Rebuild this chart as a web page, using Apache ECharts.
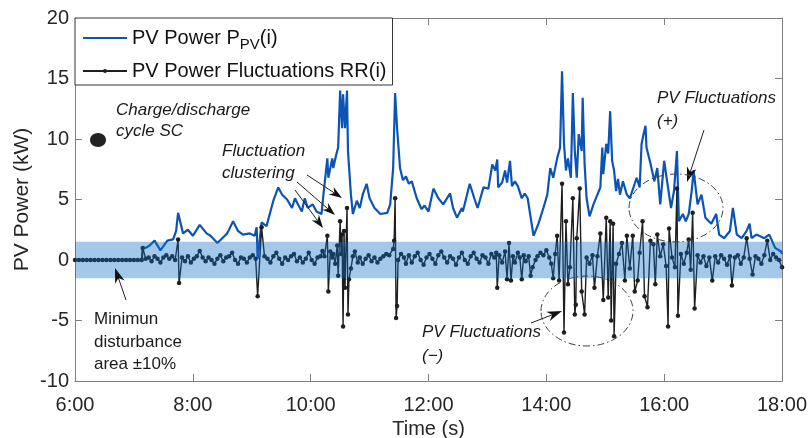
<!DOCTYPE html>
<html>
<head>
<meta charset="utf-8">
<script src="https://cdn.jsdelivr.net/npm/echarts@6/dist/echarts.min.js"></script>
<style>
html,body{margin:0;padding:0;background:#fff;}
#chart{width:808px;height:438px;}
</style>
</head>
<body>
<div id="chart"></div>
<script>
// ---- data (time in minutes after midnight) ----
const xTickLabels = ['6:00','8:00','10:00','12:00','14:00','16:00','18:00'];
const yTicks = [-10, -5, 0, 5, 10, 15, 20];
const bandLimits = [-1.5, 1.5];
const bandSpan = [360, 1080];

const pvTime = [360,380,400,428,429,432,436,441,447,454,
460,463,465,467,470,475,480,487,494,498,
505,510,515,521,526,531,538,543,545,546,
550,555,562,567,571,576,581,584,587,591,
594,597,602,606,611,613,617,618,622,623,
626,628,630,632,633,635,637,638,641,643,
647,650,653,657,660,665,671,678,681,684,
686,688,691,694,697,700,703,708,713,716,
720,725,730,735,742,745,749,754,755,762,
767,770,776,781,785,788,790,791,795,798,
800,803,805,808,811,815,818,821,825,827,
832,837,841,844,847,851,854,856,858,860,
862,865,867,869,871,873,876,877,879,881,
884,888,892,895,897,898,901,903,905,907,
909,911,913,915,918,922,925,930,932,935,
937,939,941,942,946,950,953,956,960,963,
967,970,973,975,979,982,985,988,990,992,
994,998,1002,1008,1013,1016,1021,1027,1030,1034,
1039,1044,1047,1049,1054,1062,1067,1073,1079,1080];

const pvPower = [0,0,0,0,1.0,1.0,1.2,1.6,0.8,1.6,
1.7,2.4,3.9,3.8,2.2,2.5,2.0,2.9,2.2,2.0,
1.4,1.8,2.2,3.2,2.4,2.1,2.2,2.0,2.7,0.1,
3.1,2.8,4.9,6.0,5.4,5.0,4.3,5.1,4.6,4.0,
5.1,4.3,4.6,4.0,3.8,5.4,8.4,6.8,8.4,7.6,
8.7,9.3,14.0,10.9,13.7,10.9,14.0,9.0,5.4,3.8,
4.9,4.3,5.4,6.3,5.1,4.3,3.8,3.9,4.6,7.6,
13.8,10.9,7.6,6.6,6.9,6.3,6.5,5.1,4.2,4.5,
4.0,5.9,5.1,4.6,5.5,4.3,3.5,4.3,4.0,6.3,
5.0,4.3,6.0,5.9,7.9,7.4,8.3,6.0,6.4,7.4,
6.4,8.2,6.1,6.5,6.1,5.1,5.5,5.1,3.0,2.0,
3.0,4.3,5.4,7.6,6.8,8.4,9.3,15.6,9.6,7.4,
8.4,6.8,13.8,9.0,6.8,10.4,9.0,13.4,7.9,5.1,
3.6,4.6,5.4,6.0,9.3,7.1,9.6,8.8,12.3,8.2,
7.4,5.7,6.7,5.4,6.5,5.4,5.1,6.3,6.8,6.0,
9.6,10.4,11.1,9.3,8.0,6.5,7.6,4.6,8.2,6.5,
4.3,5.7,9.0,3.2,3.8,3.2,3.8,5.7,7.4,6.0,
4.6,5.4,3.5,3.0,3.8,2.1,1.8,2.4,4.3,2.1,
1.8,2.4,3.0,1.8,2.1,1.8,2.1,1.0,0.7,0.5];

const rrTime = [360,364,368,372,376,380,384,388,392,396,
400,404,408,412,416,420,424,428,
429,432,435,438,441,444,447,450,453,456,
459,462,465,466,469,472,475,478,481,484,
487,490,493,496,499,502,505,508,511,514,
517,520,523,526,529,532,535,538,541,544,
546,550,553,556,559,562,565,568,571,574,
577,580,583,586,589,592,595,598,601,604,
607,610,612,614,617,618,620,622,623,625,
627,628,630,631,632,633,634,635,637,638,
639,641,643,645,648,650,653,656,659,662,
665,668,671,674,677,680,684,685,686,687,
688,689,692,695,697,700,703,706,709,712,
715,718,721,724,727,730,733,736,739,742,
745,748,751,754,757,760,763,766,769,772,
775,778,781,784,787,789,790,792,795,798,
800,802,804,806,808,811,813,815,817,819,
822,824,826,829,831,834,837,840,843,845,
847,849,851,853,856,858,860,862,864,867,
869,870,871,874,876,879,881,884,887,889,
892,895,898,901,903,905,906,908,909,911,
914,917,920,922,925,928,930,933,935,938,
940,943,946,949,951,953,956,959,962,964,
965,968,971,973,974,977,980,983,985,987,
989,991,994,997,1000,1003,1006,1009,1012,1015,
1018,1021,1024,1027,1029,1032,1035,1038,1041,1044,
1047,1050,1053,1056,1059,1062,1065,1068,1071,1074,
1077,1080];

const rrValue = [0,0,0,0,0,0,0,0,0,0,
0,0,0,0,0,0,0,0,
1.0,0.1,0.2,-0.1,0.3,0.1,-0.2,0.2,0.4,0.1,
0.3,0.0,1.7,-1.9,0.2,-0.1,0.3,-0.2,0.1,0.3,
0.75,0.2,-0.1,0.2,0.0,-0.3,0.1,0.4,-0.1,0.2,
0.3,0.6,0.0,-0.3,0.2,0.1,-0.2,0.2,0.4,0.1,
-3.0,2.7,0.3,0.1,-0.2,0.3,0.6,0.1,-0.3,0.2,
0.0,0.3,0.5,-0.1,0.2,-0.2,0.1,0.6,0.0,-0.3,
0.2,0.3,0.75,0.3,2.0,-2.6,0.7,0.2,0.5,-0.3,
1.2,-1.3,3.2,0.5,2.1,-5.5,2.4,-2.3,4.3,-4.5,
-1.6,-0.7,0.3,0.7,-0.2,0.2,-0.3,0.1,0.4,-0.1,
0.2,-0.2,0.1,0.3,0.5,0.4,0.9,1.6,5.1,-4.8,
-3.8,0.0,0.5,0.2,-0.3,0.4,-0.2,0.3,0.6,0.0,
-0.4,0.2,0.5,0.1,-0.3,0.4,0.7,0.2,-0.2,0.3,
0.1,-0.4,0.2,0.6,0.0,-0.3,0.3,0.6,0.1,-0.2,
0.4,0.2,-0.3,0.5,0.2,0.6,-2.3,0.4,-0.2,0.7,
-1.6,1.4,-1.7,0.3,-0.2,0.6,0.2,-1.6,0.4,-0.1,
0.3,-1.3,-0.6,0.0,0.3,0.6,0.4,0.8,0.2,-0.3,
-1.5,0.5,2.0,-1.7,6.3,-6.0,3.2,-2.0,-0.6,5.1,
-4.5,-3.7,1.8,5.9,-2.6,-4.5,0.2,-0.3,0.4,-2.3,
0.3,2.2,-3.3,3.5,-3.1,3.2,-5.0,3.0,-6.3,-0.3,
0.5,1.4,-1.7,2.0,-0.7,2.0,-2.6,-1.7,0.6,3.2,
-3.0,-3.9,1.6,1.3,-2.0,2.1,0.3,1.3,-0.5,-5.5,
2.6,0.2,-0.6,5.9,-4.6,0.5,-0.3,0.6,1.7,-0.8,
3.9,-4.0,0.4,-0.2,0.3,-0.5,0.2,-1.7,0.3,-0.2,
0.4,0.1,-0.4,0.3,-2.1,0.2,0.4,-0.3,0.2,1.8,
0.1,-1.2,0.3,0.1,-0.3,0.4,1.6,0.0,0.5,0.2,
0.0,-0.6];

// ---- chart ----
const FONT = '"Liberation Sans", Arial, Helvetica, sans-serif';
const AXIS_COLOR = '#7f7f7f';
const TEXT_COLOR = '#262626';
const NAME_PV = 'PV Power P_PV(i)';
const NAME_RR = 'PV Power Fluctuations RR(i)';

function arrow(x1, y1, x2, y2, len, w) {
  const dx = x2 - x1, dy = y2 - y1, L = Math.hypot(dx, dy);
  const ux = dx / L, uy = dy / L;
  const bx = x2 - ux * len, by = y2 - uy * len;
  const nx = x2 - ux * len * 0.7, ny = y2 - uy * len * 0.7;
  const px = -uy * w / 2, py = ux * w / 2;
  return [
    {type: 'line', z: 100, shape: {x1: x1, y1: y1, x2: nx, y2: ny}, style: {stroke: '#222', lineWidth: 1}},
    {type: 'polygon', z: 100, shape: {points: [[x2, y2], [bx + px, by + py], [nx, ny], [bx - px, by - py]]}, style: {fill: '#111'}}
  ];
}
function label(text, x, y, italic) {
  return {type: 'text', z: 100, style: {text: text, x: x, y: y,
    font: (italic ? 'italic ' : '') + '17px ' + FONT, fill: '#1a1a1a',
    textVerticalAlign: 'middle', verticalAlign: 'middle', textAlign: 'left', align: 'left'}};
}
function ellipse(cx, cy, rx, ry) {
  return {type: 'ellipse', z: 100, shape: {cx: cx, cy: cy, rx: rx, ry: ry},
    style: {fill: 'none', stroke: '#444', lineWidth: 1, lineDash: [7, 3, 1.5, 3]}};
}

const graphics = [].concat(
  [{type: 'ellipse', z: 100, shape: {cx: 98, cy: 140, rx: 8, ry: 7}, style: {fill: '#222'}}],
  [label('Charge/discharge', 116, 110, true), label('cycle SC', 116, 131, true)],
  [label('Fluctuation', 222, 151, true), label('clustering', 222, 173, true)],
  arrow(307, 175, 342, 198, 13, 9),
  arrow(297, 182, 335, 215, 13, 9),
  arrow(295, 190, 323, 228, 13, 9),
  [label('PV Fluctuations', 657, 98, true), label('(+)', 657, 121, true)],
  arrow(704, 130, 687, 182, 15, 10),
  [ellipse(676, 208, 47, 34)],
  [label('PV Fluctuations', 422, 332, true), label('(\u2212)', 422, 356, true)],
  arrow(531, 323, 562, 311, 15, 10),
  [ellipse(587, 311, 46, 35)],
  [label('Minimun', 94, 319, false), label('disturbance', 94, 342, false), label('area \u00b110%', 94, 364, false)],
  arrow(126, 300, 115, 268, 15, 10)
);

const xLabelFmt = v => xTickLabels[Math.round((v - 360) / 120)] || '';

const option = {
  animation: false,
  backgroundColor: '#ffffff',
  textStyle: {fontFamily: FONT},
  grid: {left: 75, right: 26, top: 18, bottom: 57, containLabel: false, outerBoundsMode: 'none'},
  legend: {
    data: [{name: NAME_PV, itemStyle: {opacity: 0}}, {name: NAME_RR}],
    orient: 'vertical', left: 75, top: 18,
    backgroundColor: '#ffffff', borderColor: '#333', borderWidth: 1, borderRadius: 0,
    padding: [10, 6, 4, 7], itemGap: 9, itemWidth: 44, itemHeight: 5,
    textStyle: {fontSize: 20, color: '#111', fontFamily: FONT,
      rich: {
        a: {fontSize: 20, lineHeight: 28, fontFamily: FONT, color: '#111'},
        b: {fontSize: 15, lineHeight: 12, verticalAlign: 'bottom', fontFamily: FONT, color: '#111'}
      }},
    formatter: function (name) {
      if (name === NAME_PV) return '{a|PV Power P}{b|PV}{a|(i)}';
      return '{a|PV Power Fluctuations RR(i)}';
    }
  },
  xAxis: [
    {type: 'value', min: 360, max: 1080, interval: 120, position: 'bottom',
     axisLine: {show: true, onZero: false, lineStyle: {color: AXIS_COLOR, width: 1}},
     axisTick: {show: true, inside: true, length: 7, lineStyle: {color: AXIS_COLOR}},
     axisLabel: {formatter: xLabelFmt, fontSize: 20, color: TEXT_COLOR, margin: 14, fontFamily: FONT},
     splitLine: {show: false},
     name: 'Time (s)', nameLocation: 'middle', nameGap: 38, nameMoveOverlap: false,
     nameTextStyle: {fontSize: 20, color: TEXT_COLOR, fontFamily: FONT}},
    {type: 'value', min: 360, max: 1080, interval: 120, position: 'top',
     axisLine: {show: true, onZero: false, lineStyle: {color: AXIS_COLOR, width: 1}},
     axisTick: {show: true, inside: true, length: 7, lineStyle: {color: AXIS_COLOR}},
     axisLabel: {show: false}, splitLine: {show: false}}
  ],
  yAxis: [
    {type: 'value', min: yTicks[0], max: yTicks[yTicks.length - 1], interval: 5, position: 'left',
     axisLine: {show: true, onZero: false, lineStyle: {color: AXIS_COLOR, width: 1}},
     axisTick: {show: true, inside: true, length: 7, lineStyle: {color: AXIS_COLOR}},
     axisLabel: {fontSize: 20, color: TEXT_COLOR, margin: 6, fontFamily: FONT},
     splitLine: {show: false},
     name: 'PV Power (kW)', nameLocation: 'middle', nameGap: 42, nameMoveOverlap: false,
     nameTextStyle: {fontSize: 21, color: TEXT_COLOR, fontFamily: FONT}},
    {type: 'value', min: yTicks[0], max: yTicks[yTicks.length - 1], interval: 5, position: 'right',
     axisLine: {show: true, onZero: false, lineStyle: {color: AXIS_COLOR, width: 1}},
     axisTick: {show: true, inside: true, length: 7, lineStyle: {color: AXIS_COLOR}},
     axisLabel: {show: false}, splitLine: {show: false}}
  ],
  series: [
    {name: NAME_PV, type: 'line', xAxisIndex: 0, yAxisIndex: 0, z: 2,
     data: pvTime.map((t, i) => [t, pvPower[i]]),
     showSymbol: false, symbol: 'none',
     itemStyle: {color: '#0b54b6'},
     lineStyle: {color: '#0b54b6', width: 2.2}},
    {name: NAME_RR, type: 'line', xAxisIndex: 0, yAxisIndex: 0, z: 3,
     data: rrTime.map((t, i) => [t, rrValue[i]]),
     symbol: 'circle', symbolSize: 4.5, showAllSymbol: true,
     itemStyle: {color: '#1e1e1e'},
     lineStyle: {color: '#1e1e1e', width: 1.4}},
    {name: 'band', type: 'custom', xAxisIndex: 0, yAxisIndex: 0, z: 10, silent: true,
     data: [[bandSpan[0], bandSpan[1], bandLimits[0], bandLimits[1]]],
     encode: {x: [0, 1], y: [2, 3]},
     renderItem: function (params, api) {
       const p1 = api.coord([api.value(0), api.value(3)]);
       const p2 = api.coord([api.value(1), api.value(2)]);
       return {type: 'rect', shape: {x: p1[0], y: p1[1], width: p2[0] - p1[0], height: p2[1] - p1[1]},
               style: {fill: 'rgba(16,110,200,0.38)'}};
     }}
  ],
  graphic: graphics
};

const chart = echarts.init(document.getElementById('chart'), null, {renderer: 'canvas'});
chart.setOption(option);
</script>
</body>
</html>
